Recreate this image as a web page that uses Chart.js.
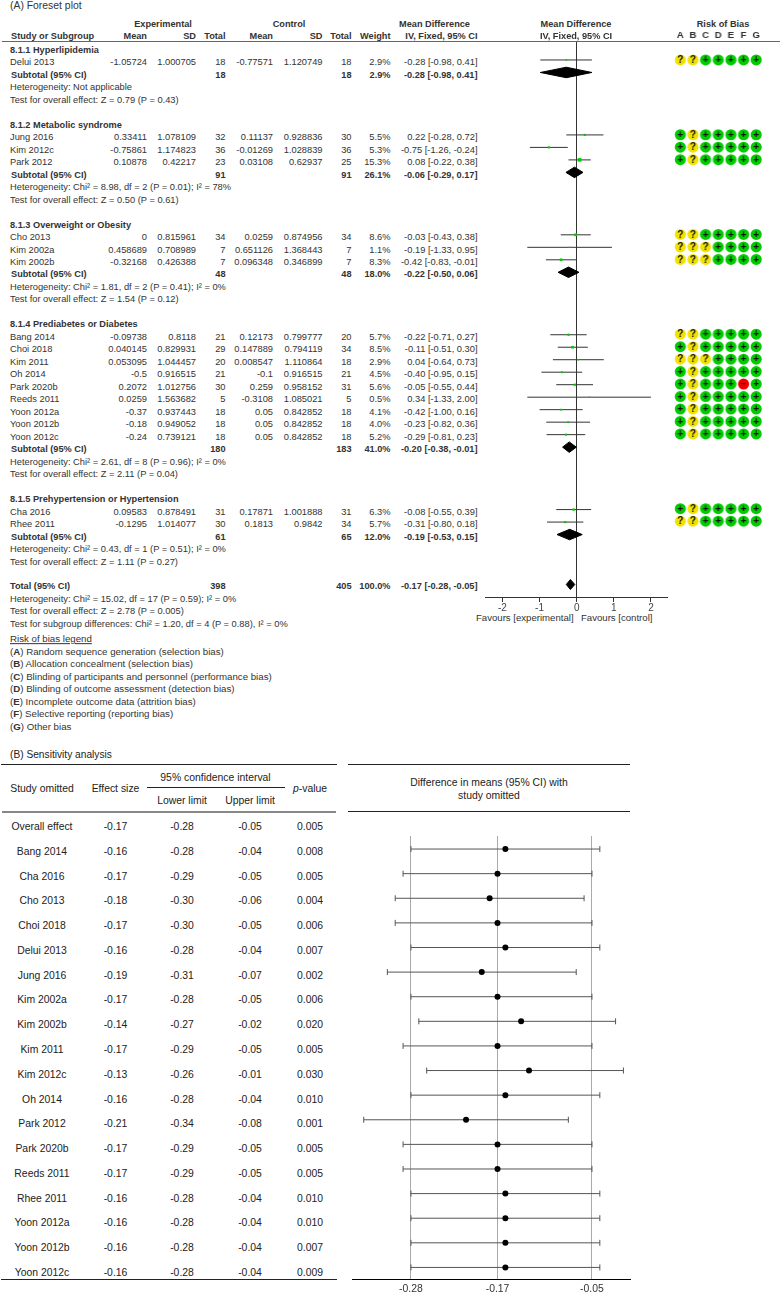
<!DOCTYPE html>
<html>
<head>
<meta charset="utf-8">
<title>Forest plot and sensitivity analysis</title>
<script src="https://cdn.jsdelivr.net/npm/chart.js@4/dist/chart.umd.js"></script>
<style>
    html, body { margin: 0; padding: 0; background: #fff; }
    #page { position: relative; width: 780px; height: 1295px; overflow: hidden; font-family: "Liberation Sans", Arial, sans-serif; color: #333; }
    .t { position: absolute; white-space: nowrap; line-height: 1; }
    .rule { position: absolute; }
    .box { position: absolute; }
</style>
</head>
<body>
<div id="page">
    <div class="box" style="left:485px;top:41px;width:183px;height:571px"><canvas id="forestChart"></canvas></div>
    <div class="box" style="left:674px;top:30px;width:87.5px;height:566px"><canvas id="riskChart"></canvas></div>
    <div class="box" style="left:352px;top:836px;width:279px;height:459px"><canvas id="omitChart"></canvas></div>
</div>
<script>
// --- Panel A: one entry per study, in plot order ---
const studyNames = ['Delui 2013', 'Jung 2016', 'Kim 2012c', 'Park 2012', 'Cho 2013', 'Kim 2002a', 'Kim 2002b', 'Bang 2014', 'Choi 2018', 'Kim 2011', 'Oh 2014', 'Park 2020b', 'Reeds 2011', 'Yoon 2012a', 'Yoon 2012b', 'Yoon 2012c', 'Cha 2016', 'Rhee 2011'];
const expMeans = [-1.05724, 0.33411, -0.75861, 0.10878, 0, 0.458689, -0.32168, -0.09738, 0.040145, 0.053095, -0.5, 0.2072, 0.0259, -0.37, -0.18, -0.24, 0.09583, -0.1295];
const expSDs = [1.000705, 1.078109, 1.174823, 0.42217, 0.815961, 0.708989, 0.426388, 0.8118, 0.829931, 1.044457, 0.916515, 1.012756, 1.563682, 0.937443, 0.949052, 0.739121, 0.878491, 1.014077];
const expTotals = [18, 32, 36, 23, 34, 7, 7, 21, 29, 20, 21, 30, 5, 18, 18, 18, 31, 30];
const ctlMeans = [-0.77571, 0.11137, -0.01269, 0.03108, 0.0259, 0.651126, 0.096348, 0.12173, 0.147889, 0.008547, -0.1, 0.259, -0.3108, 0.05, 0.05, 0.05, 0.17871, 0.1813];
const ctlSDs = [1.120749, 0.928836, 1.028839, 0.62937, 0.874956, 1.368443, 0.346899, 0.799777, 0.794119, 1.110864, 0.916515, 0.958152, 1.085021, 0.842852, 0.842852, 0.842852, 1.001888, 0.9842];
const ctlTotals = [18, 30, 36, 25, 34, 7, 7, 20, 34, 18, 21, 31, 5, 18, 18, 18, 31, 34];
const weights = [2.9, 5.5, 5.3, 15.3, 8.6, 1.1, 8.3, 5.7, 8.5, 2.9, 4.5, 5.6, 0.5, 4.1, 4.0, 5.2, 6.3, 5.7];
const mdMeans = [-0.28, 0.22, -0.75, 0.08, -0.03, -0.19, -0.42, -0.22, -0.11, 0.04, -0.40, -0.05, 0.34, -0.42, -0.23, -0.29, -0.08, -0.31];
const mdLows = [-0.98, -0.28, -1.26, -0.22, -0.43, -1.33, -0.83, -0.71, -0.51, -0.64, -0.95, -0.55, -1.33, -1.00, -0.82, -0.81, -0.55, -0.80];
const mdHighs = [0.41, 0.72, -0.24, 0.38, 0.38, 0.95, -0.01, 0.27, 0.30, 0.73, 0.15, 0.44, 2.00, 0.16, 0.36, 0.23, 0.39, 0.18];
const riskCodes = ['??+++++', '+?+++++', '+?+++++', '+?+++++', '??+++++', '???++++', '???++++', '??+++++', '+?+++++', '???++++', '+?+++++', '+?+++-+', '+?+++++', '+?+++++', '+?+++++', '+?+++++', '+?+++++', '??+++++'];

// --- Panel A: subgroups ---
const groupNames = ['8.1.1 Hyperlipidemia', '8.1.2 Metabolic syndrome', '8.1.3 Overweight or Obesity', '8.1.4 Prediabetes or Diabetes', '8.1.5 Prehypertension or Hypertension'];
const groupSizes = [1, 3, 3, 9, 2];
const groupExpTotals = [18, 91, 48, 180, 61];
const groupCtlTotals = [18, 91, 48, 183, 65];
const groupWeights = [2.9, 26.1, 18.0, 41.0, 12.0];
const groupMeans = [-0.28, -0.06, -0.22, -0.20, -0.19];
const groupLows = [-0.98, -0.29, -0.50, -0.38, -0.53];
const groupHighs = [0.41, 0.17, 0.06, -0.01, 0.15];
const groupHet = ['Heterogeneity: Not applicable', 'Heterogeneity: Chi² = 8.98, df = 2 (P = 0.01); I² = 78%', 'Heterogeneity: Chi² = 1.81, df = 2 (P = 0.41); I² = 0%', 'Heterogeneity: Chi² = 2.61, df = 8 (P = 0.96); I² = 0%', 'Heterogeneity: Chi² = 0.43, df = 1 (P = 0.51); I² = 0%'];
const groupTest = ['Test for overall effect: Z = 0.79 (P = 0.43)', 'Test for overall effect: Z = 0.50 (P = 0.61)', 'Test for overall effect: Z = 1.54 (P = 0.12)', 'Test for overall effect: Z = 2.11 (P = 0.04)', 'Test for overall effect: Z = 1.11 (P = 0.27)'];

const totalExp = 398;
const totalCtl = 405;
const totalWeight = 100.0;
const totalMean = -0.17;
const totalLow = -0.28;
const totalHigh = -0.05;
const totalNotes = ['Heterogeneity: Chi² = 15.02, df = 17 (P = 0.59); I² = 0%', 'Test for overall effect: Z = 2.78 (P = 0.005)', 'Test for subgroup differences: Chi² = 1.20, df = 4 (P = 0.88), I² = 0%'];

const forestTicks = [-2, -1, 0, 1, 2];
const riskDomains = ['A', 'B', 'C', 'D', 'E', 'F', 'G'];
const riskLegend = ['Random sequence generation (selection bias)', 'Allocation concealment (selection bias)', 'Blinding of participants and personnel (performance bias)', 'Blinding of outcome assessment (detection bias)', 'Incomplete outcome data (attrition bias)', 'Selective reporting (reporting bias)', 'Other bias'];

// --- Panel B: the first entry is the overall effect, it has no mark in the plot ---
const omitNames = ['Overall effect', 'Bang 2014', 'Cha 2016', 'Cho 2013', 'Choi 2018', 'Delui 2013', 'Jung 2016', 'Kim 2002a', 'Kim 2002b', 'Kim 2011', 'Kim 2012c', 'Oh 2014', 'Park 2012', 'Park 2020b', 'Reeds 2011', 'Rhee 2011', 'Yoon 2012a', 'Yoon 2012b', 'Yoon 2012c'];
const omitEffects = [-0.17, -0.16, -0.17, -0.18, -0.17, -0.16, -0.19, -0.17, -0.14, -0.17, -0.13, -0.16, -0.21, -0.17, -0.17, -0.16, -0.16, -0.16, -0.16];
const omitLows = [-0.28, -0.28, -0.29, -0.30, -0.30, -0.28, -0.31, -0.28, -0.27, -0.29, -0.26, -0.28, -0.34, -0.29, -0.29, -0.28, -0.28, -0.28, -0.28];
const omitHighs = [-0.05, -0.04, -0.05, -0.06, -0.05, -0.04, -0.07, -0.05, -0.02, -0.05, -0.01, -0.04, -0.08, -0.05, -0.05, -0.04, -0.04, -0.04, -0.04];
const omitPValues = ['0.005', '0.008', '0.005', '0.004', '0.006', '0.007', '0.002', '0.006', '0.020', '0.005', '0.030', '0.010', '0.001', '0.005', '0.005', '0.010', '0.010', '0.007', '0.009'];
const omitTicks = [-0.28, -0.17, -0.05];

document.addEventListener('DOMContentLoaded', function() {
    const page = document.getElementById('page');
    const SMALL = 9.3;   // panel A text
    const BOLD = 9.2;    // panel A bold text
    const LARGE = 10.4;  // panel B text

    function label(html, x, y, opts = {}) {
        const el = document.createElement('div');
        el.className = 't';
        el.innerHTML = html;
        el.style.fontSize = (opts.size || (opts.bold ? BOLD : SMALL)) + 'px';
        el.style.top = (y + 1) + 'px';
        if (opts.bold) el.style.fontWeight = 'bold';
        if (opts.color) el.style.color = opts.color;
        if (opts.underline) el.style.textDecoration = 'underline';
        if (opts.align === 'right') {
            el.style.right = (780 - x) + 'px';
            el.style.transform = 'translateY(-50%)';
        } else if (opts.align === 'center') {
            el.style.left = x + 'px';
            el.style.transform = 'translate(-50%, -50%)';
        } else {
            el.style.left = x + 'px';
            el.style.transform = 'translateY(-50%)';
        }
        page.appendChild(el);
    }

    function rule(x1, x2, y, height, color) {
        const el = document.createElement('div');
        el.className = 'rule';
        el.style.cssText = `left:${x1}px;top:${y}px;width:${x2 - x1}px;height:${height}px;background:${color}`;
        page.appendChild(el);
    }

    const mdText = (m, lo, hi) => `${m.toFixed(2)} [${lo.toFixed(2)}, ${hi.toFixed(2)}]`;

    // --- Panel A rows: walk the subgroups to get each line's row number ---
    const ROW_TOP = 60, ROW_STEP = 12.48, TEXT_SHIFT = 2.3;
    const rowText = r => ROW_TOP + ROW_STEP * r + TEXT_SHIFT;
    const COL = { name: 10, expMean: 147, expSD: 196, expN: 225.5, ctlMean: 273, ctlSD: 322.5, ctlN: 351.5, weight: 390.5, md: 477.5 };

    const studyRows = [];
    const groupRows = [];
    let row = -1, study = 0;
    groupNames.forEach((name, g) => {
        label(name, COL.name, rowText(row), { bold: true });
        row++;
        for (let i = 0; i < groupSizes[g]; i++, study++, row++) {
            studyRows.push(row);
            const r = rowText(row);
            label(studyNames[study], COL.name, r);
            label(String(expMeans[study]), COL.expMean, r, { align: 'right' });
            label(String(expSDs[study]), COL.expSD, r, { align: 'right' });
            label(String(expTotals[study]), COL.expN, r, { align: 'right' });
            label(String(ctlMeans[study]), COL.ctlMean, r, { align: 'right' });
            label(String(ctlSDs[study]), COL.ctlSD, r, { align: 'right' });
            label(String(ctlTotals[study]), COL.ctlN, r, { align: 'right' });
            label(weights[study].toFixed(1) + '%', COL.weight, r, { align: 'right' });
            label(mdText(mdMeans[study], mdLows[study], mdHighs[study]), COL.md, r, { align: 'right' });
        }
        groupRows.push(row);
        const s = rowText(row);
        label('Subtotal (95% CI)', COL.name + 1, s, { bold: true });
        label(String(groupExpTotals[g]), COL.expN, s, { align: 'right', bold: true });
        label(String(groupCtlTotals[g]), COL.ctlN, s, { align: 'right', bold: true });
        label(groupWeights[g].toFixed(1) + '%', COL.weight, s, { align: 'right', bold: true });
        label(mdText(groupMeans[g], groupLows[g], groupHighs[g]), COL.md, s, { align: 'right', bold: true });
        label(groupHet[g], COL.name, rowText(row + 1));
        label(groupTest[g], COL.name, rowText(row + 2));
        row += 4;
    });

    const totalRow = row;
    const t = rowText(totalRow);
    label('Total (95% CI)', COL.name, t, { bold: true });
    label(String(totalExp), COL.expN, t, { align: 'right', bold: true });
    label(String(totalCtl), COL.ctlN, t, { align: 'right', bold: true });
    label(totalWeight.toFixed(1) + '%', COL.weight, t, { align: 'right', bold: true });
    label(mdText(totalMean, totalLow, totalHigh), COL.md, t, { align: 'right', bold: true });
    totalNotes.forEach((note, i) => label(note, COL.name, rowText(totalRow + 1 + i)));

    // --- Panel A headers ---
    label('(A) Foreset plot', COL.name, 4.5, { size: 10.4 });
    label('Experimental', 163, 24, { align: 'center', bold: true });
    label('Control', 289, 24, { align: 'center', bold: true });
    label('Mean Difference', 434.5, 24, { align: 'center', bold: true });
    label('Mean Difference', 576, 24, { align: 'center', bold: true });
    label('Risk of Bias', 723, 24, { align: 'center', bold: true });
    label('Study or Subgroup', 11, 36, { bold: true });
    label('Mean', 147, 36, { align: 'right', bold: true });
    label('SD', 196, 36, { align: 'right', bold: true });
    label('Total', 225.5, 36, { align: 'right', bold: true });
    label('Mean', 273, 36, { align: 'right', bold: true });
    label('SD', 322.5, 36, { align: 'right', bold: true });
    label('Total', 351.5, 36, { align: 'right', bold: true });
    label('Weight', 390.5, 36, { align: 'right', bold: true });
    label('IV, Fixed, 95% CI', 477.5, 36, { align: 'right', bold: true });
    label('IV, Fixed, 95% CI', 576, 36, { align: 'center', bold: true });
    rule(2, 780, 41, 1, '#666');

    label('Favours [experimental]', 476, 617, { size: 9.6 });
    label('Favours [control]', 581, 617, { size: 9.6 });

    label('Risk of bias legend', COL.name, 638, { underline: true, size: 9.7 });
    riskLegend.forEach((text, i) => {
        label(`(<b>${riskDomains[i]}</b>) ${text}`, COL.name, 650.6 + 12.5 * i, { size: 9.7 });
    });

    // --- Panel B table ---
    label('(B) Sensitivity analysis', COL.name, 754, { size: 10.2, color: '#222' });
    const bc = { color: '#222', size: LARGE, align: 'center' };
    rule(1, 337, 764, 1, '#222');
    rule(348, 630, 764, 1, '#222');
    rule(2, 336, 810.5, 2, '#888');
    rule(348, 630, 811, 1, '#222');
    rule(147, 285, 787, 1, '#222');
    rule(1, 337, 1279, 1, '#222');
    label('Study omitted', 42, 788, bc);
    label('Effect size', 115.5, 788, bc);
    label('95% confidence interval', 215.5, 776.5, bc);
    label('Lower limit', 182, 800, bc);
    label('Upper limit', 250, 800, bc);
    label('<i>p</i>-value', 310, 788, bc);
    label('Difference in means (95% CI) with', 489, 782, bc);
    label('study omitted', 489, 794.5, bc);
    omitNames.forEach((name, i) => {
        const y = 826 + 24.78 * i;
        label(name, 42, y, bc);
        label(omitEffects[i].toFixed(2), 115.5, y, bc);
        label(omitLows[i].toFixed(2), 182, y, bc);
        label(omitHighs[i].toFixed(2), 250, y, bc);
        label(omitPValues[i], 310, y, bc);
    });

    // --- Forest plot ---
    const forestDatasets = [];
    forestDatasets.push({
        data: studyRows.map((r, i) => ({ x: mdMeans[i], y: r })),
        backgroundColor: '#00cc00',
        borderWidth: 0,
        pointStyle: 'rect',
        pointRadius: weights.map(w => Math.max(1, Math.sqrt(w) * 0.65))
    });
    studyRows.forEach((r, i) => {
        forestDatasets.push({
            data: [{ x: mdLows[i], y: r }, { x: mdHighs[i], y: r }],
            showLine: true, pointRadius: 0, borderColor: '#333', borderWidth: 1
        });
    });
    // Diamonds for subtotals and the total, the point in the middle is the pooled mean
    const diamond = (m, lo, hi, r, half) => ({
        data: [{ x: lo, y: r }, { x: m, y: r - half }, { x: hi, y: r }, { x: m, y: r + half }, { x: lo, y: r }],
        showLine: true, pointRadius: 0, tension: 0, fill: 'shape',
        borderColor: '#000', borderWidth: 1, backgroundColor: '#000'
    });
    groupRows.forEach((r, g) => {
        forestDatasets.push(diamond(groupMeans[g], groupLows[g], groupHighs[g], r, 0.42));
    });
    forestDatasets.push(diamond(totalMean, totalLow, totalHigh, totalRow, 0.4));

    const sharedOptions = {
        responsive: true,
        maintainAspectRatio: false,
        animation: false,
        events: [],
        layout: { padding: 0, autoPadding: false },
        plugins: { legend: { display: false }, tooltip: { enabled: false } }
    };
    const rowScale = { type: 'linear', reverse: true, min: -1.52, max: 43, display: false };

    new Chart(document.getElementById('forestChart').getContext('2d'), {
        type: 'scatter',
        data: { datasets: forestDatasets },
        options: {
            ...sharedOptions,
            scales: {
                x: {
                    type: 'linear', min: -2.47, max: 2.46,
                    afterBuildTicks: axis => { axis.ticks = forestTicks.map(v => ({ value: v })); },
                    afterFit: axis => { axis.height = 15; },
                    border: { color: '#333', width: 1 },
                    grid: {
                        color: ctx => (ctx.tick && ctx.tick.value === 0 ? '#333' : 'rgba(0,0,0,0)'),
                        tickColor: '#333',
                        tickLength: 5
                    },
                    ticks: { color: '#444', font: { family: 'Liberation Sans', size: 10 }, padding: 0, maxRotation: 0, callback: v => String(v) }
                },
                y: rowScale
            }
        }
    });

    // --- Risk of bias grid ---
    const riskPalette = { '+': '#00cc00', '?': '#f2e200', '-': '#ee0000' };
    const riskPoints = [];
    studyRows.forEach((r, i) => {
        riskDomains.forEach((d, j) => riskPoints.push({ x: d, y: r, code: riskCodes[i][j] }));
    });
    const riskSymbols = {
        id: 'riskSymbols',
        afterDatasetsDraw(chart) {
            const { ctx, scales } = chart;
            ctx.save();
            ctx.fillStyle = '#111';
            ctx.textAlign = 'center';
            ctx.textBaseline = 'middle';
            ctx.font = 'bold 10px "Liberation Sans"';
            riskPoints.forEach(p => {
                const sym = p.code === '-' ? '−' : p.code;
                ctx.fillText(sym, scales.x.getPixelForValue(p.x), scales.y.getPixelForValue(p.y) + 0.5);
            });
            ctx.restore();
        }
    };
    new Chart(document.getElementById('riskChart').getContext('2d'), {
        type: 'scatter',
        data: {
            labels: riskDomains,
            datasets: [{
                data: riskPoints,
                clip: false,
                pointRadius: 5.5,
                borderWidth: 0,
                backgroundColor: riskPoints.map(p => riskPalette[p.code])
            }]
        },
        plugins: [riskSymbols],
        options: {
            ...sharedOptions,
            scales: {
                x: {
                    type: 'category', position: 'top', offset: true, labels: riskDomains,
                    afterFit: axis => { axis.height = 11; },
                    grid: { display: false, drawTicks: false },
                    border: { display: false },
                    ticks: { color: '#333', font: { family: 'Liberation Sans', size: 9.6, weight: 'bold' }, padding: 0, autoSkip: false, maxRotation: 0 }
                },
                y: rowScale
            }
        }
    });

    // --- Sensitivity plot ---
    const plotRows = omitNames.slice(1).map((_, i) => i);
    const omitDatasets = [{
        data: plotRows.map(i => ({ x: omitEffects[i + 1], y: i })),
        backgroundColor: '#000',
        borderWidth: 0,
        pointRadius: 3
    }];
    plotRows.forEach(i => {
        omitDatasets.push({
            data: [{ x: omitLows[i + 1], y: i }, { x: omitHighs[i + 1], y: i }],
            showLine: true,
            borderColor: '#555',
            borderWidth: 1,
            pointStyle: 'line',
            pointRotation: 90,
            pointRadius: 3,
            pointBorderColor: '#555',
            pointBorderWidth: 1
        });
    });
    new Chart(document.getElementById('omitChart').getContext('2d'), {
        type: 'scatter',
        data: { datasets: omitDatasets },
        options: {
            ...sharedOptions,
            scales: {
                x: {
                    type: 'linear', min: -0.3549, max: -0.0004,
                    afterBuildTicks: axis => { axis.ticks = omitTicks.map(v => ({ value: v })); },
                    afterFit: axis => { axis.height = 16; },
                    border: { color: '#000', width: 1 },
                    grid: { color: '#aaa', drawTicks: false },
                    ticks: { color: '#333', font: { family: 'Liberation Sans', size: 10.4 }, padding: 4, maxRotation: 0, callback: v => v.toFixed(2) }
                },
                y: { type: 'linear', reverse: true, min: -0.53, max: 17.47, display: false }
            }
        }
    });
});
</script>
</body>
</html>
